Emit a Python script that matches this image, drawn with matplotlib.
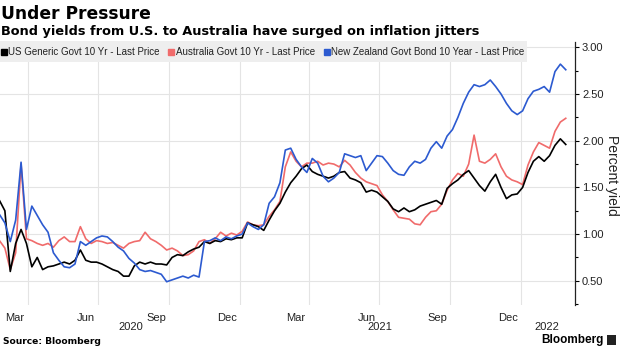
import numpy as np
import pandas as pd
import matplotlib
matplotlib.use("Agg")
import matplotlib.pyplot as plt
import matplotlib.dates as mdates
from matplotlib.lines import Line2D
from matplotlib.patches import Rectangle

# ---------------- data (weekly samples) ----------------
start_date = "2020-02-24"

us_10y = [1.36, 1.25, 0.60, 0.90, 1.05, 0.90, 0.65, 0.75, 0.62, 0.65,
          0.66, 0.68, 0.70, 0.68, 0.72, 0.83, 0.72, 0.70, 0.70, 0.68,
          0.65, 0.62, 0.60, 0.55, 0.55, 0.66, 0.70, 0.68, 0.70, 0.68,
          0.68, 0.67, 0.75, 0.78, 0.77, 0.81, 0.84, 0.86, 0.92, 0.90,
          0.93, 0.92, 0.95, 0.94, 0.96, 0.96, 1.12, 1.10, 1.08, 1.04,
          1.15, 1.25, 1.33, 1.45, 1.55, 1.62, 1.70, 1.74, 1.67, 1.64,
          1.62, 1.60, 1.62, 1.66, 1.67, 1.60, 1.58, 1.55, 1.45, 1.47,
          1.45, 1.40, 1.35, 1.27, 1.24, 1.28, 1.24, 1.26, 1.30, 1.32,
          1.34, 1.36, 1.32, 1.49, 1.54, 1.58, 1.64, 1.68, 1.60, 1.52,
          1.46, 1.56, 1.64, 1.50, 1.38, 1.42, 1.43, 1.50, 1.66, 1.78,
          1.83, 1.78, 1.84, 1.95, 2.02, 1.96]

au_10y = [0.93, 0.85, 0.62, 0.80, 1.75, 0.95, 0.93, 0.90, 0.88, 0.90,
          0.86, 0.93, 0.97, 0.92, 0.92, 1.08, 0.95, 0.90, 0.93, 0.92,
          0.90, 0.91, 0.88, 0.85, 0.90, 0.92, 0.93, 1.02, 0.95, 0.92,
          0.88, 0.83, 0.85, 0.82, 0.77, 0.78, 0.82, 0.92, 0.94, 0.90,
          0.95, 1.02, 0.98, 1.01, 0.99, 1.03, 1.13, 1.10, 1.09, 1.10,
          1.19, 1.26, 1.35, 1.72, 1.88, 1.78, 1.72, 1.76, 1.76, 1.78,
          1.74, 1.76, 1.75, 1.72, 1.79, 1.74, 1.66, 1.60, 1.56, 1.54,
          1.52, 1.42, 1.35, 1.26, 1.18, 1.17, 1.16, 1.11, 1.10, 1.18,
          1.24, 1.25, 1.32, 1.47, 1.58, 1.65, 1.62, 1.75, 2.06, 1.78,
          1.76, 1.80, 1.86, 1.72, 1.62, 1.58, 1.56, 1.53, 1.74, 1.88,
          1.98, 1.95, 1.92, 2.10, 2.20, 2.24]

nz_10y = [1.21, 1.12, 0.92, 1.15, 1.77, 1.05, 1.30, 1.20, 1.10, 1.02,
          0.80, 0.72, 0.65, 0.64, 0.68, 0.92, 0.88, 0.92, 0.96, 0.98,
          0.97, 0.92, 0.86, 0.82, 0.74, 0.69, 0.62, 0.60, 0.61, 0.59,
          0.57, 0.49, 0.51, 0.53, 0.55, 0.53, 0.56, 0.54, 0.92, 0.93,
          0.96, 0.93, 0.97, 0.95, 0.98, 1.00, 1.12, 1.08, 1.05, 1.10,
          1.33, 1.40, 1.55, 1.90, 1.92, 1.80, 1.72, 1.66, 1.81, 1.76,
          1.62, 1.56, 1.60, 1.66, 1.86, 1.84, 1.82, 1.84, 1.68, 1.76,
          1.84, 1.83, 1.76, 1.68, 1.64, 1.63, 1.72, 1.78, 1.76, 1.80,
          1.92, 1.99, 1.92, 2.05, 2.12, 2.25, 2.40, 2.52, 2.60, 2.58,
          2.60, 2.65, 2.58, 2.50, 2.40, 2.32, 2.28, 2.32, 2.45, 2.53,
          2.55, 2.58, 2.52, 2.74, 2.82, 2.76]

series_labels = ["US Generic Govt 10 Yr - Last Price",
                 "Australia Govt 10 Yr - Last Price",
                 "New Zealand Govt Bond 10 Year - Last Price"]
month_ticks = ["2020-03-15", "2020-06-15", "2020-09-15", "2020-12-15",
               "2021-03-15", "2021-06-15", "2021-09-15", "2021-12-15"]
month_labels = ["Mar", "Jun", "Sep", "Dec", "Mar", "Jun", "Sep", "Dec"]
quarter_lines = ["2020-04-01", "2020-07-01", "2020-10-01", "2021-01-01",
                 "2021-04-01", "2021-07-01", "2021-10-01", "2022-01-01"]
year_labels = ["2020", "2021", "2022"]
year_label_dates = ["2020-08-12", "2021-07-02", "2022-02-04"]
y_ticks = [0.5, 1.0, 1.5, 2.0, 2.5, 3.0]
y_tick_labels = ["0.50", "1.00", "1.50", "2.00", "2.50", "3.00"]

# ---------------- styling ----------------
C_US = "#000000"
C_AU = "#f06b6b"
C_NZ = "#2c5ad0"
GRID = "#e4e4e4"

plt.rcParams["font.family"] = ["Liberation Sans", "DejaVu Sans"]
NARROW = ["Liberation Sans Narrow", "Liberation Sans", "DejaVu Sans"]
WIDE = ["DejaVu Sans"]

W, H = 620, 348
fig = plt.figure(figsize=(W / 100, H / 100), dpi=100)
fig.patch.set_facecolor("white")

def fx(px):
    return px / W

def fy(py):
    return 1 - py / H

ax = fig.add_axes([0, fy(305), fx(575), fy(42) - fy(305)])

dates = pd.date_range(start_date, periods=len(us_10y), freq="7D")

ax.plot(dates, au_10y, color=C_AU, lw=1.2, zorder=3)
ax.plot(dates, us_10y, color=C_US, lw=1.2, zorder=4)
ax.plot(dates, nz_10y, color=C_NZ, lw=1.2, zorder=5)

ax.set_xlim(pd.Timestamp("2020-02-24 16:00"), pd.Timestamp("2022-03-12"))
ax.set_ylim(0.241, 3.057)

# x axis: month labels (no tick marks), quarter grid lines
ax.set_xticks(pd.to_datetime(month_ticks))
ax.set_xticklabels(month_labels)
ax.set_xticks(pd.to_datetime(quarter_lines), minor=True)
ax.tick_params(axis="x", which="both", length=0, pad=6, labelsize=8,
               labelcolor="#222222")
ax.grid(which="minor", axis="x", color=GRID, lw=0.8)

for lab, d in zip(year_labels, year_label_dates):
    ax.text(pd.Timestamp(d), -0.085, lab, transform=ax.get_xaxis_transform(),
            ha="center", va="center", fontsize=8, color="#222222")

# y axis on the right
ax.yaxis.tick_right()
ax.set_yticks(y_ticks)
ax.set_yticklabels(y_tick_labels)
ax.set_yticks([0.25, 0.75, 1.25, 1.75, 2.25, 2.75], minor=True)
ax.tick_params(axis="y", which="major", length=3, width=0.8, direction="out",
               pad=2, labelsize=8, labelcolor="#222222")
ax.tick_params(axis="y", which="minor", length=2, width=0.8, direction="out")
ax.grid(which="major", axis="y", color=GRID, lw=0.8)
ax.set_axisbelow(True)

for s in ["left", "top", "bottom"]:
    ax.spines[s].set_visible(False)
ax.spines["right"].set_color("#222222")
ax.spines["right"].set_linewidth(0.9)

fig.text(fx(612), fy(175), "Percent yield", rotation=270, ha="center",
         va="center", fontsize=10, color="#222222")

# legend band
band = Rectangle((0, fy(62)), fx(527), fy(41) - fy(62), transform=fig.transFigure,
                 facecolor="#eeeeee", edgecolor="none", zorder=6)
fig.add_artist(band)
handles = [Line2D([], [], marker="s", linestyle="none", markersize=4,
                  color=c) for c in (C_US, C_AU, C_NZ)]
leg = fig.legend(handles, series_labels, loc="center left",
                 bbox_to_anchor=(fx(1), fy(52)), ncol=3, frameon=False,
                 handlelength=0.6, handletextpad=0.15, columnspacing=0.9,
                 borderpad=0, borderaxespad=0,
                 prop={"family": NARROW, "size": 7.0})
leg.set_zorder(7)
for t in leg.get_texts():
    t.set_color("#222222")

# titles
fig.text(fx(1), fy(19), "Under Pressure", fontsize=12.3, fontweight="bold",
         family=WIDE, va="baseline", ha="left", color="#000000")
fig.text(fx(1), fy(34.5),
         "Bond yields from U.S. to Australia have surged on inflation jitters",
         fontsize=9.3, fontweight="bold", family=WIDE, va="baseline",
         ha="left", color="#000000")

# footer
fig.text(fx(3), fy(341), "Source: Bloomberg", fontsize=6.6, fontweight="bold",
         family=WIDE, va="center", ha="left", color="#000000")
fig.text(fx(604), fy(340), "Bloomberg", fontsize=8.5, fontweight="bold",
         va="center", ha="right", color="#000000")
fig.add_artist(Rectangle((fx(607), fy(345)), fx(9), fy(335) - fy(345),
                         transform=fig.transFigure, facecolor="#222222",
                         edgecolor="none"))

fig.savefig("out.png", dpi=100)
